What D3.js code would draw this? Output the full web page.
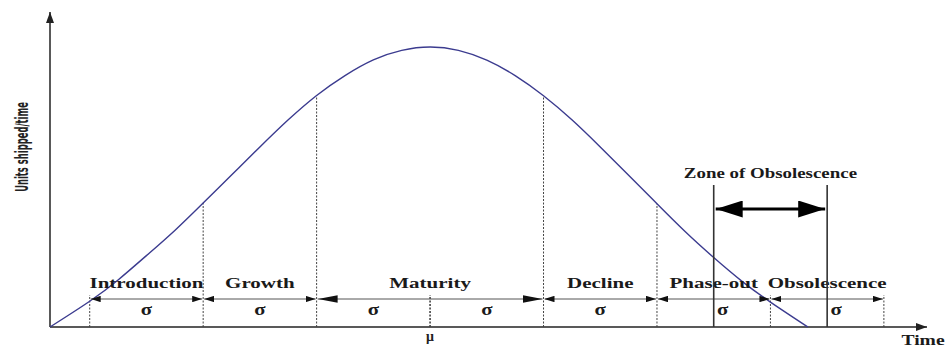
<!DOCTYPE html>
<html>
<head>
<meta charset="utf-8">
<script src="https://cdn.jsdelivr.net/npm/d3@7"></script>
<style>
  html, body { margin: 0; padding: 0; background: #fff; }
  svg { display: block; }
  .lbl { font-family: "Liberation Serif", "Times New Roman", serif; font-weight: bold; fill: #1a1a1a; }
</style>
</head>
<body>
<div id="chart"></div>
<script>
// curve: time in sigma units from the mean, shipments as % of peak
const curveT = [-3.35, -3, -2.75, -2.5, -2.25, -2, -1.75, -1.5, -1.25, -1, -0.75, -0.5, -0.25, 0,
                0.25, 0.5, 0.75, 1, 1.25, 1.5, 1.75, 2, 2.25, 2.5, 2.75, 3, 3.33];
const curveV = [0, 9.2, 16.8, 25.5, 34.5, 44.3, 54.3, 64.3, 74, 82.7, 89.8, 95.4, 98.8, 100,
                98.8, 95.3, 89.8, 82.6, 74, 64.3, 54.2, 44, 34, 24.8, 16.3, 8.9, 0];

const phaseNames = ['Introduction', 'Growth', 'Maturity', 'Decline', 'Phase-out', 'Obsolescence'];
const phaseStart = [-3, -2, -1, 1, 2, 3];
const phaseEnd   = [-2, -1, 1, 2, 3, 4];
const sigmaMarks = [-3, -2, -1, 0, 1, 2, 3, 4];
const zoneBounds = [2.5, 3.5];

const width = 947, height = 347;
const stretch = 1.4;   // serif labels are drawn wide in the original

const x = d3.scaleLinear().domain([-3.35, 4.38]).range([50, 927]);
const y = d3.scaleLinear().domain([0, 100]).range([327, 47]);
const base = y(0);

const svg = d3.select('#chart').append('svg')
  .attr('width', width).attr('height', height);

const defs = svg.append('defs');
function marker(id, len, half, color) {
  defs.append('marker')
    .attr('id', id)
    .attr('markerUnits', 'userSpaceOnUse')
    .attr('viewBox', `0 ${-half} ${len} ${half * 2}`)
    .attr('markerWidth', len).attr('markerHeight', half * 2)
    .attr('refX', len).attr('refY', 0)
    .attr('orient', 'auto-start-reverse')
    .append('path')
    .attr('d', `M0,${-half}L${len},0L0,${half}Z`)
    .attr('fill', color);
}
marker('ah', 10, 3.2, '#111');
marker('ahBig', 20, 3.8, '#111');
marker('ahAxis', 11, 4, '#222');
marker('ahZone', 27, 8.5, '#000');

function label(txt, px, py, size, sx) {
  svg.append('text')
    .attr('class', 'lbl')
    .attr('transform', `translate(${px},${py}) scale(${sx || stretch},1)`)
    .attr('text-anchor', 'middle')
    .attr('font-size', size)
    .text(txt);
}

// axes
svg.append('line')
  .attr('x1', x.range()[0]).attr('y1', base)
  .attr('x2', x.range()[0]).attr('y2', 12)
  .attr('stroke', '#222').attr('stroke-width', 1.5)
  .attr('marker-end', 'url(#ahAxis)');
svg.append('line')
  .attr('x1', x.range()[0]).attr('y1', base)
  .attr('x2', x.range()[1]).attr('y2', base)
  .attr('stroke', '#222').attr('stroke-width', 1.5)
  .attr('marker-end', 'url(#ahAxis)');

svg.append('text')
  .attr('transform', 'translate(28,147) rotate(-90) scale(0.52,1)')
  .attr('text-anchor', 'middle')
  .attr('font-family', '"Liberation Sans Narrow", "DejaVu Sans Condensed", Arial, sans-serif')
  .attr('font-weight', 'bold')
  .attr('font-size', 18)
  .attr('fill', '#222')
  .text('Units shipped/time');

label('Time', 923, 345, 14);
svg.append('text')
  .attr('x', x(0)).attr('y', 341)
  .attr('text-anchor', 'middle')
  .attr('font-family', '"Liberation Serif", serif')
  .attr('font-weight', 'bold')
  .attr('font-size', 14)
  .attr('fill', '#222')
  .text('\u03bc');

// dotted sigma lines: up to the curve where it is above the arrows, short otherwise
const arrowY = base - 28;
const valueAt = t => curveV[curveT.indexOf(t)];
svg.append('g').selectAll('line')
  .data(sigmaMarks)
  .join('line')
  .attr('x1', d => x(d)).attr('x2', d => x(d))
  .attr('y1', base)
  .attr('y2', d => {
    const v = valueAt(d);
    return (v !== undefined && y(v) < arrowY - 2 && d !== 0) ? y(v) : arrowY - 4;
  })
  .attr('stroke', '#444')
  .attr('stroke-width', d => d === 0 ? 1.6 : 1)
  .attr('stroke-dasharray', '2,1.5');

// the life-cycle curve
const pts = curveT.map((t, i) => [t, curveV[i]]);
svg.append('path')
  .datum(pts)
  .attr('fill', 'none')
  .attr('stroke', '#3b3b8f')
  .attr('stroke-width', 1.4)
  .attr('d', d3.line().x(d => x(d[0])).y(d => y(d[1])).curve(d3.curveNatural));

// phase arrows and labels
phaseNames.forEach((name, i) => {
  const big = name === 'Maturity';
  svg.append('line')
    .attr('x1', x(phaseStart[i]) + 1).attr('x2', x(phaseEnd[i]) - 1)
    .attr('y1', arrowY).attr('y2', arrowY)
    .attr('stroke', '#555').attr('stroke-width', 1)
    .attr('marker-start', big ? 'url(#ahBig)' : 'url(#ah)')
    .attr('marker-end', big ? 'url(#ahBig)' : 'url(#ah)');
  label(name, (x(phaseStart[i]) + x(phaseEnd[i])) / 2, arrowY - 11, 15);
});

// sigma signs, one per sigma interval
d3.pairs(sigmaMarks).forEach(([a, b]) => {
  const z = zoneBounds.find(zb => zb > a && zb < b);
  const px = z !== undefined ? x(z) + 9 : (x(a) + x(b)) / 2;
  label('\u03c3', px, arrowY + 16, 16, 1.3);
});

// zone of obsolescence
svg.append('g').selectAll('line')
  .data(zoneBounds)
  .join('line')
  .attr('x1', d => x(d)).attr('x2', d => x(d))
  .attr('y1', 185).attr('y2', base)
  .attr('stroke', '#333').attr('stroke-width', 1.6);
svg.append('line')
  .attr('x1', x(zoneBounds[0]) + 2).attr('x2', x(zoneBounds[1]) - 2)
  .attr('y1', 209).attr('y2', 209)
  .attr('stroke', '#000').attr('stroke-width', 3)
  .attr('marker-start', 'url(#ahZone)')
  .attr('marker-end', 'url(#ahZone)');
label('Zone of Obsolescence', (x(zoneBounds[0]) + x(zoneBounds[1])) / 2, 178, 14, 1.35);
</script>
</body>
</html>
